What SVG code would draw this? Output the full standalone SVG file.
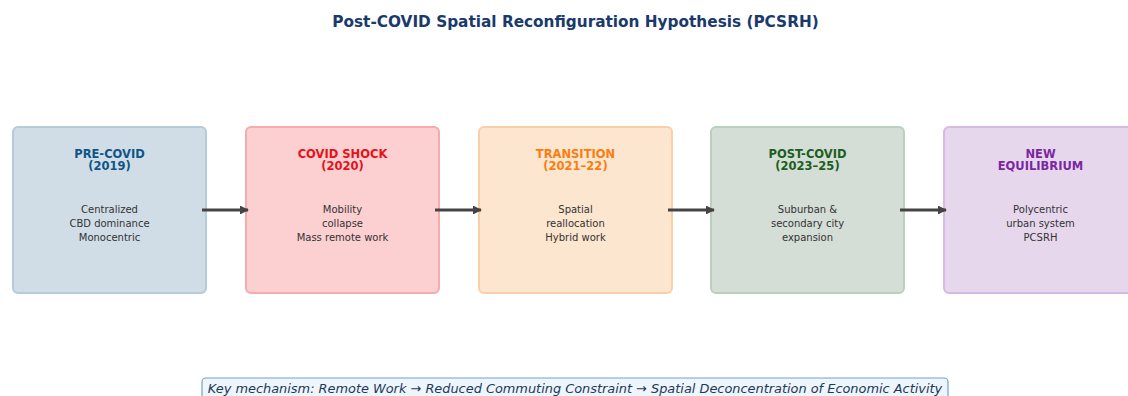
<svg xmlns="http://www.w3.org/2000/svg" width="1128" height="396" viewBox="0 0 1128 396">
<defs>
<marker id="ah" viewBox="0 0 10 10" refX="9" refY="5" markerWidth="3.2" markerHeight="3.2" orient="auto" markerUnits="strokeWidth">
<path d="M0,0 L10,5 L0,10 z" fill="#444"/>
</marker>
<style>
text{font-family:"DejaVu Sans",sans-serif;text-anchor:middle}
.box{stroke-width:2}
.hd{font-weight:bold;font-size:11.5px}
.bd{font-size:10px;fill:#333}
.conn{stroke:#444;stroke-width:2.8;fill:none;marker-end:url(#ah)}
</style>
</defs>
<rect width="1128" height="396" fill="#fff"/>
<text x="575.5" y="27" font-size="15.3" font-weight="bold" fill="#1a3a6b">Post-COVID Spatial Reconfiguration Hypothesis (PCSRH)</text>
<g id="n1">
<rect class="box" x="13" y="127" width="193" height="166" rx="5" fill="#d0dde6" stroke="#b5cadb"/>
<text class="hd" x="109.5" y="158" fill="#0f5488">PRE-COVID</text>
<text class="hd" x="109.5" y="170" fill="#0f5488">(2019)</text>
<text class="bd" x="109.5" y="213">Centralized</text>
<text class="bd" x="109.5" y="227">CBD dominance</text>
<text class="bd" x="109.5" y="241">Monocentric</text>
</g>
<g id="n2">
<rect class="box" x="246" y="127" width="193" height="166" rx="5" fill="#fcd0d1" stroke="#f7abab"/>
<text class="hd" x="342.5" y="158" fill="#e8101a">COVID SHOCK</text>
<text class="hd" x="342.5" y="170" fill="#e8101a">(2020)</text>
<text class="bd" x="342.5" y="213">Mobility</text>
<text class="bd" x="342.5" y="227">collapse</text>
<text class="bd" x="342.5" y="241">Mass remote work</text>
</g>
<g id="n3">
<rect class="box" x="479" y="127" width="193" height="166" rx="5" fill="#fce6cf" stroke="#fbcfa6"/>
<text class="hd" x="575.5" y="158" fill="#fb7d10">TRANSITION</text>
<text class="hd" x="575.5" y="170" fill="#fb7d10">(2021–22)</text>
<text class="bd" x="575.5" y="213">Spatial</text>
<text class="bd" x="575.5" y="227">reallocation</text>
<text class="bd" x="575.5" y="241">Hybrid work</text>
</g>
<g id="n4">
<rect class="box" x="711" y="127" width="193" height="166" rx="5" fill="#d5ddd7" stroke="#bbd0bc"/>
<text class="hd" x="807.5" y="158" fill="#1b5e20">POST-COVID</text>
<text class="hd" x="807.5" y="170" fill="#1b5e20">(2023–25)</text>
<text class="bd" x="807.5" y="213">Suburban &amp;</text>
<text class="bd" x="807.5" y="227">secondary city</text>
<text class="bd" x="807.5" y="241">expansion</text>
</g>
<g id="n5">
<rect class="box" x="944" y="127" width="193" height="166" rx="5" fill="#e6d7ed" stroke="#d7b9e3"/>
<text class="hd" x="1040.5" y="158" fill="#7b27a3">NEW</text>
<text class="hd" x="1040.5" y="170" fill="#7b27a3">EQUILIBRIUM</text>
<text class="bd" x="1040.5" y="213">Polycentric</text>
<text class="bd" x="1040.5" y="227">urban system</text>
<text class="bd" x="1040.5" y="241">PCSRH</text>
</g>
<g id="connectors">
<line class="conn" x1="202" y1="210" x2="248" y2="210"/>
<line class="conn" x1="435" y1="210" x2="481" y2="210"/>
<line class="conn" x1="668" y1="210" x2="714" y2="210"/>
<line class="conn" x1="900" y1="210" x2="946" y2="210"/>
</g>
<g id="note">
<rect x="202" y="378" width="746" height="30" rx="4" fill="#eef5fb" stroke="#6fa3cf" stroke-width="1.2"/>
<text x="575" y="393" font-size="12.9" font-style="italic" fill="#1a3a5c">Key mechanism: Remote Work → Reduced Commuting Constraint → Spatial Deconcentration of Economic Activity</text>
</g>
</svg>
